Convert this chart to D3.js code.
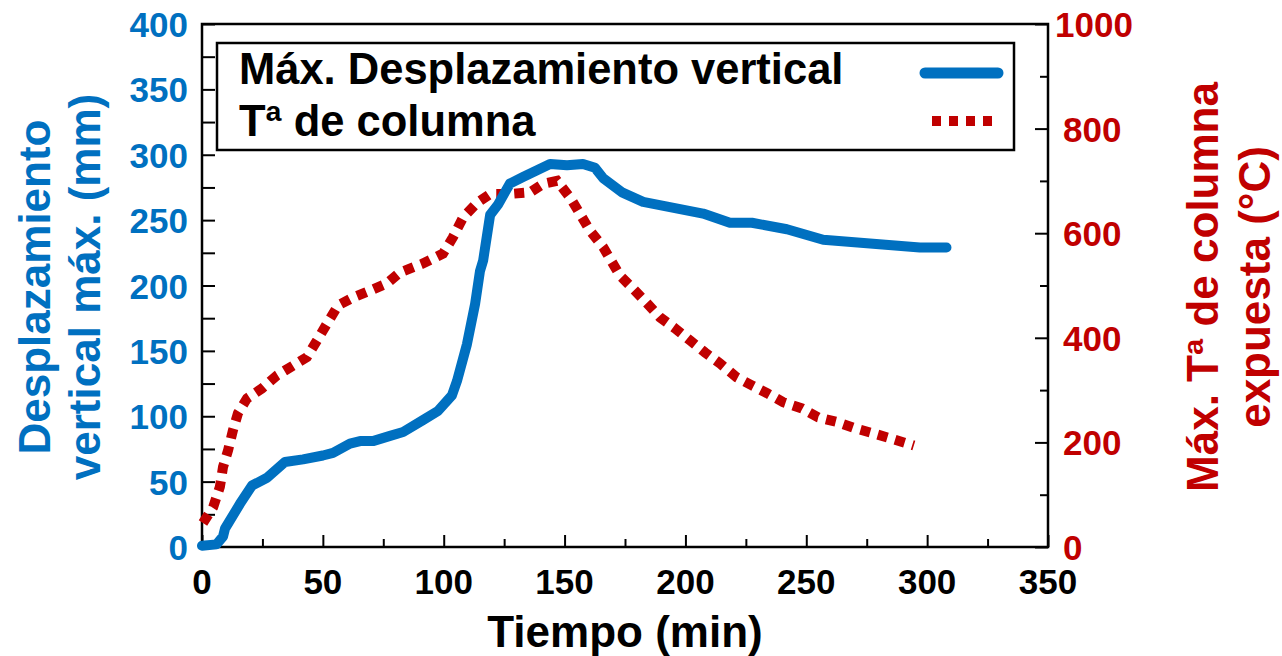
<!DOCTYPE html>
<html>
<head>
<meta charset="utf-8">
<script src="https://cdn.jsdelivr.net/npm/d3@7"></script>
<style>
  html, body { margin: 0; padding: 0; background: #fff; }
  svg { display: block; font-family: "Liberation Sans", Arial, sans-serif; font-weight: bold; }
</style>
</head>
<body>
<svg id="chart"></svg>
<script>
// --------------------
//  data
// --------------------
// Máx. desplazamiento vertical (mm) frente al tiempo (min)
const dispTime = [0, 6, 8.7, 9.5, 15.7, 20.7, 26.9, 34.3, 41.8, 50, 54.2, 61.2, 65.4, 70.7, 77.8, 83.2, 91.4, 97.6, 103.4, 105.5, 109.6, 113, 115, 116.3, 119.2, 122.5, 127.4, 132.8, 144, 151, 157.6, 162.6, 166, 174, 182.5, 207.3, 218.4, 227.5, 242, 257, 297, 308];
const dispValue = [1, 2, 8, 14, 33, 47, 53, 65, 67, 70, 72, 79, 81, 81, 85, 88, 97, 104, 116, 127, 155, 186, 211, 219, 254, 262, 278, 283, 293, 292, 293, 290, 282, 271, 264, 255, 248, 248, 243, 235, 229, 229];

// Máx. Tª de columna expuesta (°C) frente al tiempo (min)
const tempTime = [0.4, 4.6, 7.4, 8.7, 10.8, 12.8, 14.9, 18.6, 24.8, 31, 37.7, 43.4, 47.6, 51.7, 56.3, 62.5, 69.5, 76.5, 81.9, 91.4, 99.7, 103.8, 108, 113.8, 119.2, 127.4, 135.7, 141, 146.9, 152.3, 155.6, 160.5, 166, 172.9, 178.3, 184.1, 189.5, 195.7, 201.9, 208.1, 214.3, 221.3, 227.5, 233.8, 240.4, 248.2, 254.9, 262.7, 270.2, 277.2, 284.6, 294.5];
const tempValue = [46, 76, 115, 153, 185, 223, 256, 284, 303, 328, 347, 363, 395, 427, 462, 477, 490, 504, 525, 542, 561, 592, 630, 658, 675, 675, 678, 694, 700, 668, 643, 605, 573, 519, 494, 466, 439, 418, 395, 372, 351, 324, 309, 294, 277, 265, 248, 239, 227, 218, 208, 194];

// ejes
const xTicks = [0, 50, 100, 150, 200, 250, 300, 350];
const yLeftTicks = [0, 50, 100, 150, 200, 250, 300, 350, 400];
const yRightTicks = [0, 200, 400, 600, 800, 1000];

const legendLabels = ['Máx. Desplazamiento vertical', 'Tª de columna'];

// --------------------
//  layout
// --------------------
const width = 1282;
const height = 656;
const plot = {left: 202, right: 1048, top: 24, bottom: 547};
const blue = '#0070C0';
const red = '#C00000';

const svg = d3.select('#chart')
    .attr('width', width)
    .attr('height', height);

const x = d3.scaleLinear().domain([0, 350]).range([plot.left, plot.right]);
const yL = d3.scaleLinear().domain([0, 400]).range([plot.bottom, plot.top]);
const yR = d3.scaleLinear().domain([0, 1000]).range([plot.bottom, plot.top]);

// --------------------
//  axes (ticks hacia dentro)
// --------------------
const tickFont = '35px';

// eje x
const gx = svg.append('g').attr('transform', `translate(0,${plot.bottom})`);
gx.call(d3.axisBottom(x).tickValues(d3.range(0, 351, 25)).tickSize(-8).tickFormat(''));
gx.call(g => g.selectAll('.tick line')
    .attr('y2', d => d % 50 === 0 ? -12 : -8)
    .attr('stroke', '#000').attr('stroke-width', 2));
gx.select('.domain').remove();
svg.append('g').selectAll('text')
    .data(xTicks)
    .join('text')
    .attr('x', d => x(d))
    .attr('y', 594)
    .attr('text-anchor', 'middle')
    .attr('font-size', tickFont)
    .attr('fill', '#000')
    .text(d => d);

// eje y izquierdo
const gyl = svg.append('g').attr('transform', `translate(${plot.left},0)`);
gyl.call(d3.axisLeft(yL).tickValues(d3.range(0, 401, 25)).tickSize(-13).tickFormat(''));
gyl.selectAll('.tick line').attr('stroke', '#000').attr('stroke-width', 2);
gyl.select('.domain').remove();
svg.append('g').selectAll('text')
    .data(yLeftTicks)
    .join('text')
    .attr('x', 188)
    .attr('y', d => yL(d) + 13)
    .attr('text-anchor', 'end')
    .attr('font-size', tickFont)
    .attr('fill', blue)
    .text(d => d);

// eje y derecho
const gyr = svg.append('g').attr('transform', `translate(${plot.right},0)`);
gyr.call(d3.axisRight(yR).tickValues(d3.range(0, 1001, 100)).tickSize(-8).tickFormat(''));
gyr.selectAll('.tick line')
    .attr('x2', d => d % 200 === 0 ? -13 : -8)
    .attr('stroke', '#000').attr('stroke-width', 2);
gyr.select('.domain').remove();
svg.append('g').selectAll('text')
    .data(yRightTicks)
    .join('text')
    .attr('x', d => d === 1000 ? 1055 : 1063)
    .attr('y', d => yR(d) + 13)
    .attr('text-anchor', 'start')
    .attr('font-size', tickFont)
    .attr('fill', red)
    .text(d => d);

// marco
svg.append('rect')
    .attr('x', plot.left).attr('y', plot.top)
    .attr('width', plot.right - plot.left)
    .attr('height', plot.bottom - plot.top)
    .attr('fill', 'none')
    .attr('stroke', '#000')
    .attr('stroke-width', 2.5);

// --------------------
//  titles
// --------------------
const titleFont = '44px';
svg.append('text')
    .attr('x', x(175)).attr('y', 647)
    .attr('text-anchor', 'middle')
    .attr('font-size', titleFont)
    .text('Tiempo (min)');

const leftTitle = svg.append('text')
    .attr('transform', 'translate(0,287) rotate(-90)')
    .attr('text-anchor', 'middle')
    .attr('font-size', titleFont)
    .attr('fill', blue);
leftTitle.append('tspan').attr('x', 0).attr('y', 50).text('Desplazamiento');
leftTitle.append('tspan').attr('x', 0).attr('y', 100).text('vertical máx. (mm)');

const rightTitle = svg.append('text')
    .attr('transform', 'translate(0,287) rotate(-90)')
    .attr('text-anchor', 'middle')
    .attr('font-size', titleFont)
    .attr('fill', red);
rightTitle.append('tspan').attr('x', 0).attr('y', 1218).text('Máx. Tª de columna');
rightTitle.append('tspan').attr('x', 0).attr('y', 1270).text('expuesta (°C)');

// --------------------
//  lines
// --------------------
const dispData = dispTime.map((t, i) => ({t: t, v: dispValue[i]}));
const tempData = tempTime.map((t, i) => ({t: t, v: tempValue[i]}));

svg.append('path')
    .datum(tempData)
    .attr('fill', 'none')
    .attr('stroke', red)
    .attr('stroke-width', 10)
    .attr('stroke-dasharray', '10,8')
    .attr('d', d3.line().x(d => x(d.t)).y(d => yR(d.v)));

svg.append('path')
    .datum(dispData)
    .attr('fill', 'none')
    .attr('stroke', blue)
    .attr('stroke-width', 10)
    .attr('stroke-linejoin', 'round')
    .attr('stroke-linecap', 'round')
    .attr('d', d3.line().x(d => x(d.t)).y(d => yL(d.v)));

// --------------------
//  legend
// --------------------
const legend = svg.append('g');
legend.append('rect')
    .attr('x', 217).attr('y', 43)
    .attr('width', 797).attr('height', 107)
    .attr('fill', '#fff')
    .attr('stroke', '#000')
    .attr('stroke-width', 2.5);
legend.selectAll('text')
    .data(legendLabels)
    .join('text')
    .attr('x', 239)
    .attr('y', (d, i) => 84 + i * 52)
    .attr('font-size', '43.5px')
    .attr('fill', '#000')
    .text(d => d);
legend.append('line')
    .attr('x1', 925).attr('x2', 998)
    .attr('y1', 73).attr('y2', 73)
    .attr('stroke', blue)
    .attr('stroke-width', 11)
    .attr('stroke-linecap', 'round');
legend.append('line')
    .attr('x1', 932).attr('x2', 994)
    .attr('y1', 121).attr('y2', 121)
    .attr('stroke', red)
    .attr('stroke-width', 10)
    .attr('stroke-dasharray', '9,8');
</script>
</body>
</html>
